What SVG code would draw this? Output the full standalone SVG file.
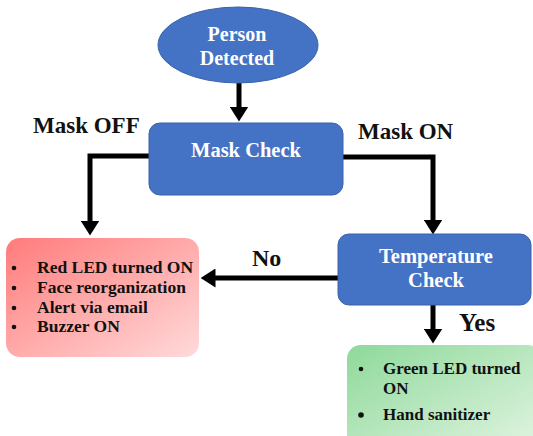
<svg xmlns="http://www.w3.org/2000/svg" width="533" height="436" viewBox="0 0 533 436">
<defs>
<style>
.blue{fill:#4472C4;stroke:#3A62A8;stroke-width:1}
.wt{font-family:"Liberation Serif",serif;font-weight:bold;fill:#fff;text-anchor:middle}
.bt{font-family:"Liberation Serif",serif;font-weight:bold;fill:#111;font-size:17.5px}
.gt{font-family:"Liberation Serif",serif;font-weight:bold;fill:#111;font-size:17px}
.lbl{font-family:"Liberation Serif",serif;font-weight:bold;fill:#111}
.con{fill:none;stroke:#000;stroke-width:5;marker-end:url(#ah)}
</style>
<marker id="ah" markerUnits="userSpaceOnUse" markerWidth="15" markerHeight="19" viewBox="0 0 15 19" refX="0.5" refY="9.5" orient="auto">
<path d="M0,0 L15,9.5 L0,19 Z" fill="#000"/>
</marker>
<linearGradient id="gr" x1="0" y1="0" x2="1" y2="1">
<stop offset="0" stop-color="#FF7B7B"/>
<stop offset="1" stop-color="#FFDADA"/>
</linearGradient>
<linearGradient id="gg" x1="0" y1="0" x2="1" y2="1">
<stop offset="0" stop-color="#8ED99A"/>
<stop offset="1" stop-color="#E4F5E4"/>
</linearGradient>
</defs>

<g id="connectors">
<path class="con" d="M239,83 V107"/>
<path class="con" d="M150,156 H90 V221"/>
<path class="con" d="M342,157 H433 V220"/>
<path class="con" d="M339,278 H215"/>
<path class="con" d="M433,305 V329"/>
</g>

<g id="labels">
<text class="lbl" x="33" y="133" font-size="23">Mask OFF</text>
<text class="lbl" x="358" y="139" font-size="23">Mask ON</text>
<text class="lbl" x="252" y="266" font-size="24">No</text>
<text class="lbl" x="459" y="331" font-size="25">Yes</text>
</g>

<g id="person-detected">
<ellipse class="blue" cx="238" cy="45" rx="80" ry="38"/>
<text class="wt" x="237" y="41" font-size="20">Person</text>
<text class="wt" x="237" y="65" font-size="20">Detected</text>
</g>

<g id="mask-check">
<rect class="blue" x="149" y="123" width="194" height="72" rx="11"/>
<text class="wt" x="246" y="157" font-size="20.5">Mask Check</text>
</g>

<g id="temperature-check">
<rect class="blue" x="338" y="234" width="193" height="71" rx="11"/>
<text class="wt" x="436" y="263" font-size="20.5">Temperature</text>
<text class="wt" x="436" y="287" font-size="20.5">Check</text>
</g>

<g id="mask-off-actions">
<rect x="6" y="238" width="193" height="119" rx="14" fill="url(#gr)"/>
<circle cx="14" cy="268" r="2.3" fill="#111"/>
<circle cx="14" cy="288" r="2.3" fill="#111"/>
<circle cx="14" cy="308" r="2.3" fill="#111"/>
<circle cx="14" cy="327" r="2.3" fill="#111"/>
<text class="bt" x="37" y="273">Red LED turned ON</text>
<text class="bt" x="37" y="293">Face reorganization</text>
<text class="bt" x="37" y="313">Alert via email</text>
<text class="bt" x="37" y="332">Buzzer ON</text>
</g>

<g id="mask-on-actions">
<rect x="347" y="345" width="195" height="110" rx="14" fill="url(#gg)"/>
<circle cx="361" cy="369" r="2.3" fill="#111"/>
<circle cx="361" cy="415" r="2.8" fill="#111"/>
<text class="gt" x="383" y="374">Green LED turned</text>
<text class="gt" x="383" y="394">ON</text>
<text class="gt" x="383" y="420">Hand sanitizer</text>
</g>
</svg>
